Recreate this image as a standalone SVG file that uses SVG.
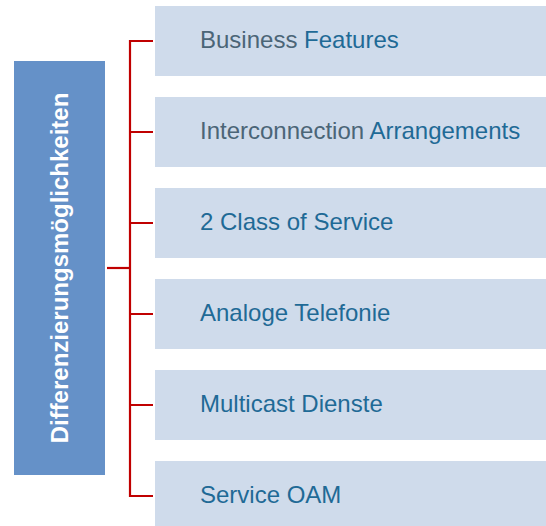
<svg xmlns="http://www.w3.org/2000/svg" width="546" height="526" viewBox="0 0 546 526">
<style>
.item{fill:#cfdbeb}
.t{font-family:"Liberation Sans",Arial,sans-serif;font-size:24px;fill:#1f6a96}
.g{fill:#4b6577}
.conn{stroke:#c00000;stroke-width:2.2;fill:none}
</style>
<rect width="546" height="526" fill="#ffffff"/>
<g id="root">
<rect x="14" y="61" width="91" height="414" fill="#6591c8"/>
<text transform="translate(68,268) rotate(-90)" text-anchor="middle" font-family="Liberation Sans,Arial,sans-serif" font-weight="bold" font-size="24" fill="#ffffff">Differenzierungsmöglichkeiten</text>
</g>
<g id="connectors" class="conn">
<path d="M107,268 H130"/>
<path d="M153,41 H130 V496 H153"/>
<path d="M130,132 H153 M130,223 H153 M130,314 H153 M130,405 H153"/>
</g>
<g id="n1"><rect class="item" x="155" y="6" width="391" height="70"/><text class="t" x="200" y="48"><tspan class="g">Business</tspan> Features</text></g>
<g id="n2"><rect class="item" x="155" y="97" width="391" height="70"/><text class="t" x="200" y="139"><tspan class="g">Interconnection</tspan> Arrangements</text></g>
<g id="n3"><rect class="item" x="155" y="188" width="391" height="70"/><text class="t" x="200" y="230">2 Class of Service</text></g>
<g id="n4"><rect class="item" x="155" y="279" width="391" height="70"/><text class="t" x="200" y="321">Analoge Telefonie</text></g>
<g id="n5"><rect class="item" x="155" y="370" width="391" height="70"/><text class="t" x="200" y="412">Multicast Dienste</text></g>
<g id="n6"><rect class="item" x="155" y="461" width="391" height="70"/><text class="t" x="200" y="503">Service OAM</text></g>
</svg>
